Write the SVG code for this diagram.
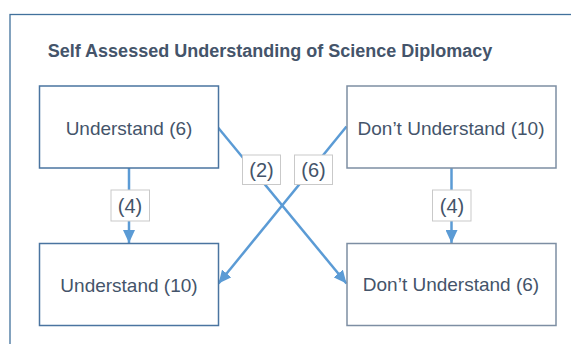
<svg xmlns="http://www.w3.org/2000/svg" width="571" height="344" viewBox="0 0 571 344">
<defs>
<marker id="ah" markerUnits="userSpaceOnUse" markerWidth="14" markerHeight="12" refX="13" refY="6" orient="auto">
<path d="M0,0 L13,6 L0,12 Z" fill="#5b9bd5"/>
</marker>
<style>
.t{font-family:"Liberation Sans",Arial,sans-serif;fill:#44546a;text-anchor:middle;font-size:19px}
.l{font-size:20px}
.box{fill:#fff;stroke-width:1.5}
.c{stroke:#5b9bd5;stroke-width:2.5;fill:none}
.lb{fill:#fff;stroke:#c9c9c9;stroke-width:1}
</style>
</defs>
<rect width="571" height="344" fill="#fff"/>
<rect x="10" y="14.5" width="600" height="400" fill="none" stroke="#41719c" stroke-width="1.3"/>
<text class="t" x="270" y="57" style="font-weight:bold;font-size:18px">Self Assessed Understanding of Science Diplomacy</text>
<g id="connectors">
<line class="c" x1="129" y1="168" x2="129" y2="243" marker-end="url(#ah)"/>
<line class="c" x1="451.5" y1="168" x2="451.5" y2="243" marker-end="url(#ah)"/>
<line class="c" x1="218" y1="127.5" x2="346.5" y2="283.5" marker-end="url(#ah)"/>
<line class="c" x1="346.5" y1="126.5" x2="218.5" y2="283.5" marker-end="url(#ah)"/>
<rect class="lb" x="111" y="190" width="38.5" height="31"/>
<text class="t l" x="130" y="212.5">(4)</text>
<rect class="lb" x="432.5" y="190" width="38.5" height="31"/>
<text class="t l" x="452" y="212.5">(4)</text>
<rect class="lb" x="242.5" y="155" width="38" height="29.5"/>
<text class="t l" x="261.5" y="176.5">(2)</text>
<rect class="lb" x="294.5" y="155" width="38" height="29.5"/>
<text class="t l" x="313.5" y="176.5">(6)</text>
</g>
<g id="n1">
<rect class="box" x="39.5" y="86" width="179" height="82" stroke="#4a74a0"/>
<text class="t" x="129" y="134.5">Understand (6)</text>
</g>
<g id="n2">
<rect class="box" x="347" y="86" width="209" height="82" stroke="#7d8ea3"/>
<text class="t" x="451" y="134.5">Don’t Understand (10)</text>
</g>
<g id="n3">
<rect class="box" x="39.5" y="243.5" width="179" height="82" stroke="#4a74a0"/>
<text class="t" x="129" y="291.5">Understand (10)</text>
</g>
<g id="n4">
<rect class="box" x="347" y="243.5" width="209" height="82" stroke="#7d8ea3"/>
<text class="t" x="451" y="291">Don’t Understand (6)</text>
</g>
</svg>
